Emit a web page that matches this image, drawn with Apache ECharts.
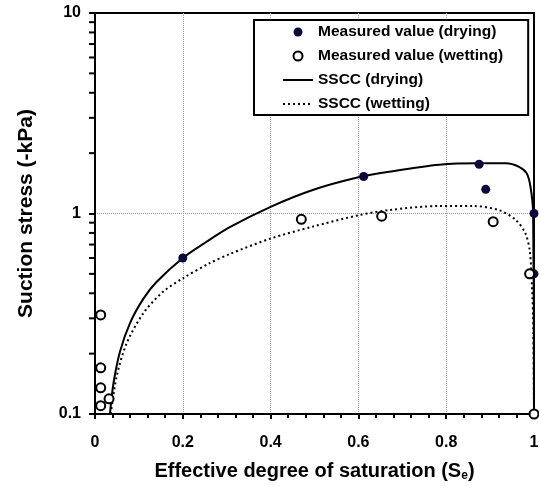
<!DOCTYPE html>
<html>
<head>
<meta charset="utf-8">
<script src="https://cdn.jsdelivr.net/npm/echarts@6/dist/echarts.min.js"></script>
<style>
  html, body { margin: 0; padding: 0; background: #fff; }
  #chart { width: 539px; height: 486px; }
</style>
</head>
<body>
<div id="chart"></div>
<script>
// measured points
const dryingSe = [0.2, 0.612, 0.875, 0.89, 1.0, 1.0];
const dryingStress = [0.6, 1.53, 1.76, 1.32, 1.0, 0.5];
const wettingSe = [0.013, 0.013, 0.013, 0.013, 0.032, 0.47, 0.653, 0.907, 0.99, 1.0];
const wettingStress = [0.312, 0.17, 0.135, 0.11, 0.119, 0.935, 0.97, 0.91, 0.5, 0.1];

// SSCC curves
const ssccDrySe = [0.034, 0.042, 0.057, 0.08, 0.11, 0.14, 0.2, 0.254, 0.307, 0.4, 0.496, 0.6, 0.67, 0.784, 0.875, 0.936, 0.966, 0.983, 0.992, 0.998, 1.0];
const ssccDryStress = [0.1, 0.142, 0.205, 0.285, 0.375, 0.455, 0.6, 0.723, 0.855, 1.08, 1.31, 1.515, 1.615, 1.75, 1.78, 1.78, 1.71, 1.59, 1.36, 1.0, 0.1];
const ssccWetSe = [0.036, 0.049, 0.072, 0.11, 0.155, 0.2, 0.261, 0.307, 0.4, 0.496, 0.6, 0.67, 0.784, 0.86, 0.92, 0.958, 0.98, 0.99, 0.994, 0.998, 1.0];
const ssccWetStress = [0.1, 0.153, 0.225, 0.318, 0.407, 0.475, 0.565, 0.628, 0.75, 0.86, 0.98, 1.04, 1.09, 1.09, 1.04, 0.93, 0.8, 0.66, 0.5, 0.3, 0.1];

// log-axis minor ticks
const yMinorTicks = [0.2, 0.3, 0.4, 0.5, 0.6, 0.7, 0.8, 0.9, 2, 3, 4, 5, 6, 7, 8, 9];

const zip = (xs, ys) => xs.map((x, i) => [x, ys[i]]);
const FONT = "Liberation Sans";

const chart = echarts.init(document.getElementById("chart"), null, { renderer: "canvas" });

const option = {
  backgroundColor: "#fff",
  animation: false,
  textStyle: { fontFamily: FONT },
  grid: {
    left: 95, right: 5, top: 13, bottom: 72,
    outerBoundsMode: "none",
    show: true, borderColor: "#000", borderWidth: 2,
  },
  legend: {
    orient: "vertical",
    left: 254, top: 20,
    padding: [4, 25, 3, 28],
    itemWidth: 30, itemHeight: 9, itemGap: 8,
    borderColor: "#000", borderWidth: 2,
    backgroundColor: "#fff",
    textStyle: { fontFamily: FONT, fontWeight: "bold", fontSize: 15.5, color: "#000", lineHeight: 16 },
    data: [
      "Measured value (drying)",
      "Measured value (wetting)",
      { name: "SSCC (drying)", itemStyle: { opacity: 0 } },
      { name: "SSCC (wetting)", itemStyle: { opacity: 0 } },
    ],
  },
  xAxis: {
    type: "value",
    min: 0, max: 1, interval: 0.2,
    name: "{a|Effective degree of saturation (S}{b|e}{a|)}",
    nameLocation: "middle", nameGap: 47,
    nameTextStyle: {
      rich: {
        a: { fontFamily: FONT, fontWeight: "bold", fontSize: 20, color: "#000" },
        b: { fontFamily: FONT, fontWeight: "bold", fontSize: 12, color: "#000", padding: [9, 0, 0, 0] },
      },
    },
    axisLine: { lineStyle: { color: "#000", width: 2 } },
    axisTick: { inside: false, length: 5, lineStyle: { color: "#000", width: 2 } },
    minorTick: { show: true, splitNumber: 5, length: 4, lineStyle: { color: "#000", width: 2 } },
    axisLabel: { fontFamily: FONT, fontWeight: "bold", fontSize: 16, color: "#000", margin: 21,
      formatter: v => String(+v.toFixed(1)) },
    splitLine: { show: true, showMinLine: false, showMaxLine: false,
      lineStyle: { color: "#999", width: 1, type: [1, 1] } },
  },
  yAxis: {
    type: "log",
    logBase: 10,
    min: 0.1, max: 10,
    name: "Suction stress (-kPa)",
    nameLocation: "middle", nameGap: 58,
    nameTextStyle: { fontFamily: FONT, fontWeight: "bold", fontSize: 21, color: "#000" },
    axisLine: { show: true, lineStyle: { color: "#000", width: 2 } },
    axisTick: { show: true, inside: false, length: 6, lineStyle: { color: "#000", width: 2 } },
    axisLabel: { fontFamily: FONT, fontWeight: "bold", fontSize: 16, color: "#000", margin: 14,
      formatter: v => String(v) },
    splitLine: { show: true, showMinLine: false, showMaxLine: false,
      lineStyle: { color: "#999", width: 1, type: [1, 1] } },
  },
  series: [
    {
      name: "y minor ticks",
      type: "custom",
      clip: false,
      silent: true,
      z: 1,
      data: yMinorTicks.map(v => [0, v]),
      renderItem: (params, api) => {
        const p = api.coord([api.value(0), api.value(1)]);
        return {
          type: "line",
          shape: { x1: p[0] - 1, y1: p[1], x2: p[0] - 6, y2: p[1] },
          style: { stroke: "#000", lineWidth: 2 },
        };
      },
    },
    {
      name: "SSCC (drying)",
      type: "line",
      symbol: "none",
      smooth: 0.3,
      clip: false,
      z: 3,
      lineStyle: { color: "#000", width: 2 },
      itemStyle: { color: "#000" },
      data: zip(ssccDrySe, ssccDryStress),
    },
    {
      name: "SSCC (wetting)",
      type: "line",
      symbol: "none",
      smooth: 0.3,
      clip: false,
      z: 3,
      lineStyle: { color: "#000", width: 2, type: [2, 3] },
      itemStyle: { color: "#000" },
      data: zip(ssccWetSe, ssccWetStress),
    },
    {
      name: "Measured value (drying)",
      type: "scatter",
      symbol: "circle",
      symbolSize: 9,
      clip: false,
      z: 5,
      itemStyle: { color: "#0a0a3c", opacity: 1 },
      data: zip(dryingSe, dryingStress),
    },
    {
      name: "Measured value (wetting)",
      type: "scatter",
      symbol: "circle",
      symbolSize: 9,
      clip: false,
      z: 5,
      itemStyle: { color: "#fff", borderColor: "#000", borderWidth: 2, opacity: 1 },
      data: zip(wettingSe, wettingStress),
    },
  ],
};

chart.setOption(option);
</script>
</body>
</html>
